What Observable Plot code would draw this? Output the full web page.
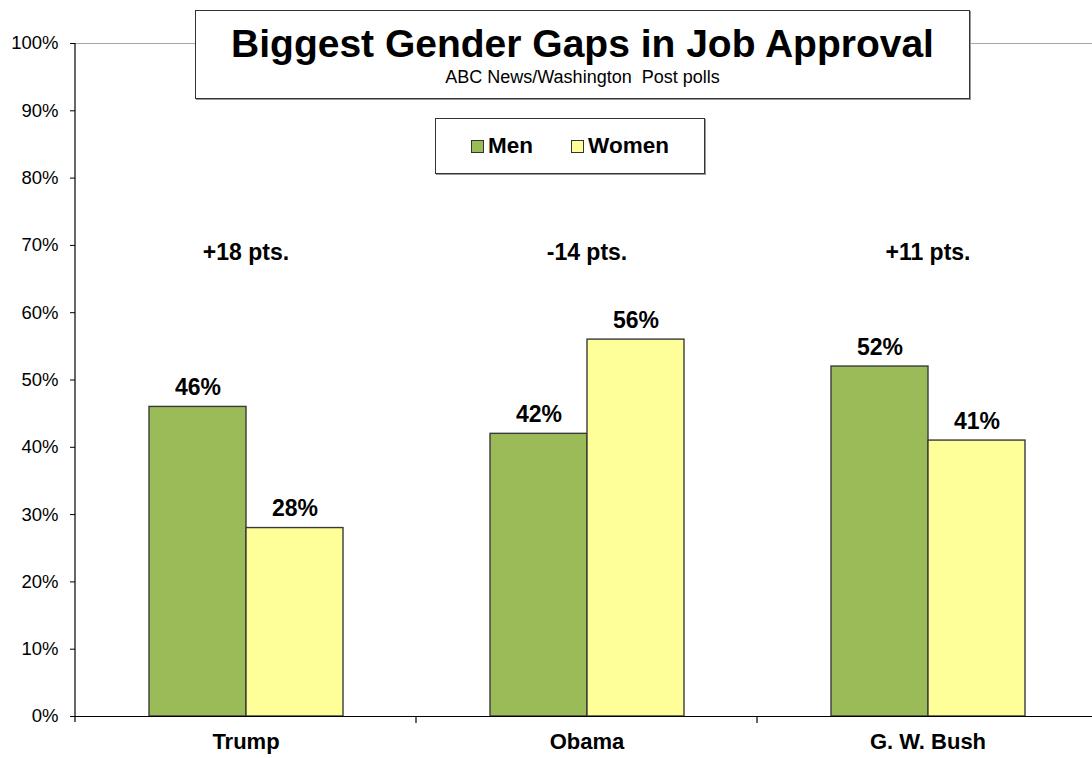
<!DOCTYPE html>
<html>
<head>
<meta charset="utf-8">
<script src="https://cdn.jsdelivr.net/npm/d3@7"></script>
<script src="https://cdn.jsdelivr.net/npm/@observablehq/plot@0.6"></script>
<style>
  html, body { margin: 0; padding: 0; background: #fff; overflow: hidden; }
  #wrap { position: relative; width: 1092px; height: 758px; font-family: "Liberation Sans", Arial, sans-serif; }
  #title { position: absolute; left: 195px; top: 10px; width: 773px; height: 87px; border: 1px solid #333; background: #fff; text-align: center; box-shadow: 1px 1px 0 #999; }
  #title .t { font-size: 39px; font-weight: bold; margin-top: 13px; line-height: 40px; color: #000; }
  #title .s { font-size: 18px; line-height: 18px; margin-top: 4px; color: #000; }
  #legend { position: absolute; left: 435px; top: 118px; width: 268px; height: 54px; border: 1px solid #333; background: #fff; display: flex; align-items: center; justify-content: center; gap: 38px; box-shadow: 1px 1px 0 #999; }
  #legend .item { display: flex; align-items: center; font-size: 22.5px; font-weight: bold; color: #000; }
  #legend .sw { width: 11px; height: 11px; border: 1px solid #333; margin-right: 4px; }
</style>
</head>
<body>
<div id="wrap">
  <div id="chart"></div>
  <div id="title"><div class="t">Biggest Gender Gaps in Job Approval</div><div class="s">ABC News/Washington&nbsp; Post polls</div></div>
  <div id="legend"></div>
</div>
<script>
const categories = ["Trump", "Obama", "G. W. Bush"];
const series = ["Men", "Women"];
const men = [46, 42, 52];
const women = [28, 56, 41];
const gapLabels = ["+18 pts.", "-14 pts.", "+11 pts."];
const yTicks = [0, 10, 20, 30, 40, 50, 60, 70, 80, 90, 100];
const colors = ["#9BBB59", "#FFFF99"];

const rows = categories.flatMap((c, i) => [
  {category: c, series: "Men", value: men[i]},
  {category: c, series: "Women", value: women[i]}
]);
const gaps = categories.map((c, i) => ({category: c, label: gapLabels[i]}));

const chart = Plot.plot({
  width: 1092,
  height: 758,
  marginLeft: 75,
  marginRight: 0,
  marginTop: 43,
  marginBottom: 42,
  style: {fontFamily: "'Liberation Sans', Arial, sans-serif", background: "white", color: "#000"},
  fx: {domain: categories, range: [75, 1098], padding: 0, label: null, axis: null},
  x: {domain: series, paddingInner: 0, paddingOuter: 0.75, axis: null},
  y: {domain: [0, 100], axis: null},
  color: {domain: series, range: colors},
  marks: [
    Plot.ruleY([100], {stroke: "#a6a6a6", strokeWidth: 1}),
    Plot.barY(rows, {fx: "category", x: "series", y: "value", fill: "series", stroke: "#3a3a3a", strokeWidth: 1.4}),
    Plot.text(rows, {fx: "category", x: "series", y: "value", text: d => d.value + "%", dy: -19, fontSize: 23, fontWeight: "bold", fill: "#000"}),
    Plot.text(gaps, {fx: "category", y: () => 69, text: "label", fontSize: 23, fontWeight: "bold", fill: "#000"}),
    Plot.ruleY([0], {stroke: "#000", strokeWidth: 1.2}),
    Plot.axisY({ticks: yTicks, tickFormat: d => d + "%", tickSize: 5, tickPadding: 12, fontSize: 18.5, stroke: "#000", fill: "#000", label: null}),
    Plot.axisFx({anchor: "bottom", tickSize: 0, tickPadding: 17, fontSize: 22, fontWeight: "bold", label: null, fill: "#000"})
  ]
});
document.getElementById("chart").appendChild(chart);

// axis line and category boundary ticks, positioned from Plot's own scales
const fx = chart.scale("fx");
const ys = chart.scale("y");
const svg = d3.select(chart);
const y0 = ys.apply(0), y100 = ys.apply(100);
const x0 = fx.apply(categories[0]);
svg.append("line").attr("x1", x0).attr("x2", x0).attr("y1", y100).attr("y2", y0 + 6)
  .attr("stroke", "#000").attr("stroke-width", 1.2);
categories.slice(1).forEach(c => {
  const xb = fx.apply(c);
  svg.append("line").attr("x1", xb).attr("x2", xb).attr("y1", y0).attr("y2", y0 + 7)
    .attr("stroke", "#000").attr("stroke-width", 1.2);
});

// legend
const leg = d3.select("#legend");
series.forEach((s, i) => {
  const it = leg.append("div").attr("class", "item");
  it.append("div").attr("class", "sw").style("background", colors[i]);
  it.append("span").text(s);
});
</script>
</body>
</html>
